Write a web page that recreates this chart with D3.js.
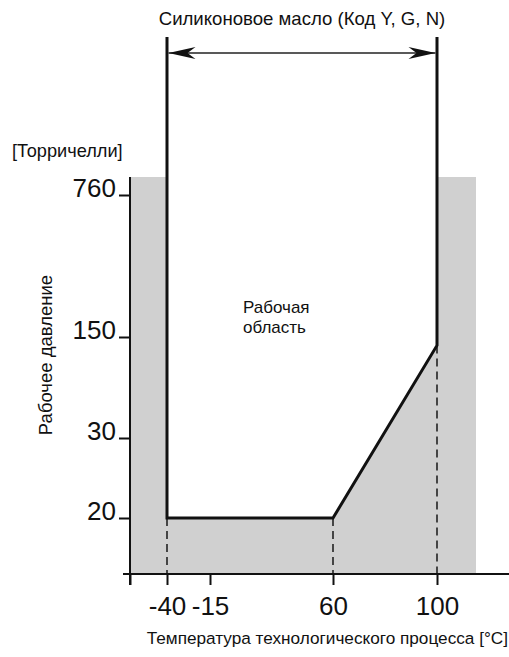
<!DOCTYPE html>
<html><head><meta charset="utf-8">
<script src="https://cdn.jsdelivr.net/npm/d3@7"></script>
<style>body{margin:0;background:#fff}svg{display:block}text{font-family:"Liberation Sans",Arial,sans-serif;fill:#111}</style>
</head><body><svg id="c" width="509" height="657"></svg>
<script>
// ---- data ----
const xTickValues = [-40, -15, 60, 100];
const xTickLabels = ["-40", "-15", "60", "100"];
const yTickValues = [20, 30, 150, 760];
const yTickLabels = ["20", "30", "150", "760"];
const boundaryTemp = [-40, 60, 100];       // lower boundary of working region
const boundaryPressure = [20, 20, 140];
const rangeLimits = [-40, 100];            // silicone oil temperature range
const shadedTemp = [-60, 118];
const shadedPressure = [10, 900];
const title = "Силиконовое масло (Код Y, G, N)";
const yUnit = "[Торричелли]";
const yTitle = "Рабочее давление";
const xTitle = "Температура технологического процесса [°C]";
const regionLabel = ["Рабочая", "область"];

// ---- scales (piecewise, chart is not to scale) ----
const x = d3.scaleLinear().domain([-60, -40, -15, 60, 100, 118]).range([130, 167, 210, 333, 437, 476]);
const y = d3.scaleLinear().domain([10, 20, 30, 150, 760, 900]).range([574, 518, 438, 337, 195, 177]);
const topY = 37, arrowY = 53;

const svg = d3.select("#c");

// shaded non-working area
svg.append("rect")
  .attr("x", x(shadedTemp[0])).attr("y", y(shadedPressure[1]))
  .attr("width", x(shadedTemp[1]) - x(shadedTemp[0]))
  .attr("height", y(shadedPressure[0]) - y(shadedPressure[1]))
  .attr("fill", "#d0d0d0");

// working region (white)
const pts = [[x(rangeLimits[0]), y(shadedPressure[1]) - 1]];
boundaryTemp.forEach((t, i) => pts.push([x(t), y(boundaryPressure[i])]));
pts.push([x(rangeLimits[1]), y(shadedPressure[1]) - 1]);
svg.append("path").attr("d", d3.line()(pts) + "Z").attr("fill", "#fff");

// dashed drop lines
boundaryTemp.forEach((t, i) => {
  svg.append("line")
    .attr("x1", x(t)).attr("x2", x(t))
    .attr("y1", y(boundaryPressure[i])).attr("y2", y(shadedPressure[0]))
    .attr("stroke", "#222").attr("stroke-width", 1.6).attr("stroke-dasharray", "8,5");
});

// axes
const yAxis = d3.axisLeft(y).tickValues(yTickValues).tickFormat((d, i) => yTickLabels[i]).tickSize(11).tickSizeOuter(0);
const gy = svg.append("g").attr("transform", `translate(${x(shadedTemp[0])},0)`).call(yAxis);
gy.select(".domain").remove();
gy.append("line").attr("x1", 0).attr("x2", 0).attr("y1", y(shadedPressure[1])).attr("y2", y(shadedPressure[0]) + 11)
  .attr("stroke", "#111").attr("stroke-width", 2);
gy.selectAll(".tick line").attr("stroke", "#111").attr("stroke-width", 2);
gy.selectAll(".tick text").attr("x", -14).attr("dy", "0.05em").style("font-size", "26px").style("font-family", "Liberation Sans, Arial, sans-serif").attr("fill", "#111");

const xAxis = d3.axisBottom(x).tickValues([shadedTemp[0]].concat(xTickValues))
  .tickFormat(d => { const i = xTickValues.indexOf(d); return i < 0 ? "" : xTickLabels[i]; })
  .tickSize(11).tickSizeOuter(0);
const gx = svg.append("g").attr("transform", `translate(0,${y(shadedPressure[0])})`).call(xAxis);
gx.select(".domain").remove();
gx.append("line").attr("x1", 123).attr("x2", 509).attr("y1", 0).attr("y2", 0).attr("stroke", "#111").attr("stroke-width", 2);
gx.selectAll(".tick line").attr("stroke", "#111").attr("stroke-width", 2);
gx.selectAll(".tick text").attr("y", 41).attr("dy", 0).style("font-size", "26px").style("font-family", "Liberation Sans, Arial, sans-serif").attr("fill", "#111");

// boundary lines (thick)
const bpts = [[x(rangeLimits[0]), topY]];
boundaryTemp.forEach((t, i) => bpts.push([x(t), y(boundaryPressure[i])]));
bpts.push([x(rangeLimits[1]), topY]);
svg.append("path").attr("d", d3.line()(bpts)).attr("fill", "none")
  .attr("stroke", "#111").attr("stroke-width", 3).attr("stroke-linejoin", "miter");

// double arrow
const xa = x(rangeLimits[0]) + 1.5, xb = x(rangeLimits[1]) - 1.5;
svg.append("line").attr("x1", xa).attr("x2", xb).attr("y1", arrowY).attr("y2", arrowY)
  .attr("stroke", "#222").attr("stroke-width", 1.3);
const head = (tip, dir) => `M${tip},${arrowY} L${tip + dir * 27},${arrowY - 6} L${tip + dir * 19},${arrowY} L${tip + dir * 27},${arrowY + 6} Z`;
svg.append("path").attr("d", head(xa, 1)).attr("fill", "#111");
svg.append("path").attr("d", head(xb, -1)).attr("fill", "#111");

// texts
svg.append("text").attr("x", (x(rangeLimits[0]) + x(rangeLimits[1])) / 2).attr("y", 25)
  .attr("text-anchor", "middle").style("font-size", "18.6px").text(title);
svg.append("text").attr("x", 12).attr("y", 157).style("font-size", "18.2px").text(yUnit);
svg.append("text").attr("transform", "translate(52,355) rotate(-90)").attr("text-anchor", "middle")
  .style("font-size", "18.5px").text(yTitle);
svg.append("text").attr("x", 508).attr("y", 644).attr("text-anchor", "end").style("font-size", "17.2px").text(xTitle);
regionLabel.forEach((s, i) => svg.append("text").attr("x", 243).attr("y", 313 + i * 20).style("font-size", "17px").text(s));
</script></body></html>
